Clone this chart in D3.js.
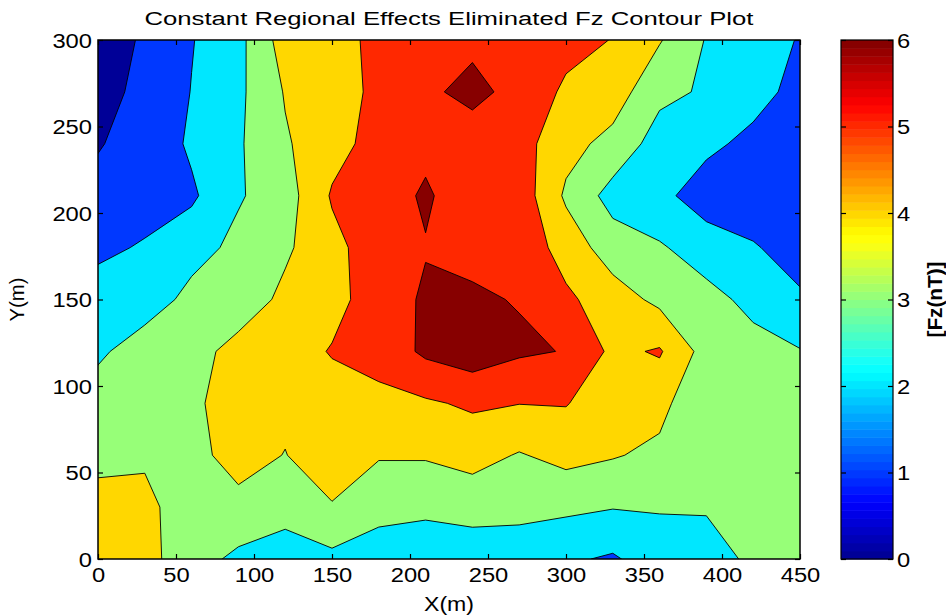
<!DOCTYPE html>
<html>
<head>
<meta charset="utf-8">
<script src="https://cdn.jsdelivr.net/npm/d3@7/dist/d3.min.js"></script>
<style>
  body { margin: 0; background: #ffffff; }
  svg { display: block; }
  text { font-family: "Liberation Sans", Arial, Helvetica, sans-serif; fill: #000; }
</style>
</head>
<body>
<svg id="chart" width="946" height="616"></svg>
<script>
// Survey grid (metres)
const xGrid = [0, 30, 60, 90, 120, 150, 180, 210, 240, 270, 300, 330, 360, 390, 420, 450];
const yGrid = [0, 30, 60, 90, 120, 150, 180, 210, 240, 270, 300];

// Fz (nT) after removing the constant regional field, one row per survey line
const fzY000 = [4.4, 4.3, 3.47, 2.75, 2.26, 2.75, 2.52, 2.34, 2.4, 2.33, 2.15, 1.87, 2.57, 2.8, 3.09, 3.3];
const fzY030 = [4.35, 4.3, 3.37, 3.81, 3.55, 3.95, 3.3, 3.22, 3.38, 3.35, 3.2, 3.045, 3.065, 3.04, 3.3, 3.4];
const fzY060 = [3.73, 3.84, 3.8, 4.25, 3.98, 4.4, 4.08, 4.09, 4.36, 3.93, 4.31, 4.076, 3.78, 3.4, 3.35, 3.3];
const fzY090 = [3.59, 3.7, 3.84, 4.4, 4.15, 4.5, 4.75, 4.87, 5.15, 5.02, 5.05, 4.4, 4.3, 3.13, 3.3, 3.2];
const fzY120 = [2.79, 3.6, 3.62, 4.35, 4.45, 5.08, 5.35, 6.19, 6.57, 6.14, 5.96, 4.78, 5.1, 3.6, 3.3, 3.05];
const fzY150 = [2.46, 2.42, 3.32, 3.43, 4.23, 4.59, 5.62, 6.1, 6.12, 5.95, 5.19, 4.47, 3.76, 3.29, 2.76, 2.16];
const fzY180 = [1.78, 2.1, 2.6, 3.26, 3.84, 4.7, 5.56, 5.96, 5.77, 5.68, 4.58, 3.49, 3.1, 2.56, 2.1, 1.5];
const fzY210 = [1.22, 1.55, 1.84, 2.9, 3.55, 5.1, 5.63, 6.1, 5.56, 5.59, 3.84, 2.62, 2.3, 1.44, 1.3, 1.2];
const fzY240 = [0.95, 1.3, 2.16, 2.88, 3.89, 4.64, 5.37, 5.82, 5.44, 5.4, 4.33, 3.69, 2.55, 2.25, 1.71, 1.45];
const fzY270 = [0.8, 1.15, 2.03, 2.79, 4.07, 4.7, 5.15, 5.8, 6.3, 5.65, 4.84, 4.5, 3.25, 2.88, 2.4, 1.65];
const fzY300 = [0.6, 1.1, 1.95, 2.71, 4.47, 4.7, 5.2, 5.5, 5.77, 5.5, 5.3, 4.97, 4.075, 2.94, 2.3, 1.96];

const contourLevels = [0, 1, 2, 3, 4, 5, 6];
const xTicks = [0, 50, 100, 150, 200, 250, 300, 350, 400, 450];
const yTicks = [0, 50, 100, 150, 200, 250, 300];
const cbTicks = [0, 1, 2, 3, 4, 5, 6];
const cbRange = [0, 6];

const titleText = "Constant Regional Effects Eliminated Fz Contour Plot";
const xLabel = "X(m)";
const yLabel = "Y(m)";
const cbLabel = "[Fz(nT)]";

// ---- layout ----
const plot = { left: 98, right: 800, top: 40, bottom: 559 };
const cb = { left: 841, right: 893 };

const svg = d3.select("#chart");

const x = d3.scaleLinear().domain([xGrid[0], xGrid[xGrid.length - 1]]).range([plot.left, plot.right]);
const y = d3.scaleLinear().domain([yGrid[0], yGrid[yGrid.length - 1]]).range([plot.bottom, plot.top]);

// MATLAB-style jet colormap with 64 entries
function jet64(i) { // i = 1..64
  const n = 64, q = n / 4;
  const clamp = v => Math.max(0, Math.min(1, v));
  const r = clamp(Math.min(i - 1.5 * q + 0.5, -i + 4.5 * q + 0.5) / q);
  const g = clamp(Math.min(i - 0.5 * q + 0.5, -i + 3.5 * q + 0.5) / q);
  const b = clamp(Math.min(i + 0.5 * q + 0.5, -i + 2.5 * q + 0.5) / q);
  return d3.rgb(r * 255, g * 255, b * 255).formatHex();
}
function levelColor(v) {
  const idx = Math.min(64, Math.floor((v - cbRange[0]) / (cbRange[1] - cbRange[0]) * 64) + 1);
  return jet64(Math.max(1, idx));
}

// ---- contour fill ----
const rows = [fzY000, fzY030, fzY060, fzY090, fzY120, fzY150, fzY180, fzY210, fzY240, fzY270, fzY300];
const nx = xGrid.length, ny = yGrid.length;
const values = rows.flat();

const contours = d3.contours().size([nx, ny]).thresholds(contourLevels)(values);

const dxStep = xGrid[1] - xGrid[0], dyStep = yGrid[1] - yGrid[0];
const gridProj = d3.geoTransform({
  point(gx, gy) {
    this.stream.point(x(xGrid[0] + (gx - 0.5) * dxStep), y(yGrid[0] + (gy - 0.5) * dyStep));
  }
});
const path = d3.geoPath(gridProj);

svg.append("defs").append("clipPath").attr("id", "plotClip")
  .append("rect")
  .attr("x", plot.left).attr("y", plot.top)
  .attr("width", plot.right - plot.left).attr("height", plot.bottom - plot.top);

const gFill = svg.append("g").attr("clip-path", "url(#plotClip)");
gFill.append("rect")
  .attr("x", plot.left).attr("y", plot.top)
  .attr("width", plot.right - plot.left).attr("height", plot.bottom - plot.top)
  .attr("fill", levelColor(contourLevels[0]));

gFill.selectAll("path.band")
  .data(contours)
  .join("path")
  .attr("class", "band")
  .attr("d", path)
  .attr("fill", d => levelColor(d.value))
  .attr("stroke", "#000")
  .attr("stroke-width", 0.9)
  .attr("stroke-linejoin", "round");

// ---- axes (ticks inward, box on) ----
const digitW = 13.2;
const intFmt = d3.format("d");
function styleTickText(sel) {
  sel.selectAll("text")
    .attr("font-size", 20)
    .attr("fill", "#000")
    .attr("textLength", d => intFmt(d).length * digitW)
    .attr("lengthAdjust", "spacingAndGlyphs");
}

const axB = svg.append("g").attr("transform", `translate(0,${plot.bottom})`)
  .call(d3.axisBottom(x).tickValues(xTicks).tickFormat(intFmt).tickSizeInner(-5).tickSizeOuter(0).tickPadding(9));
const axT = svg.append("g").attr("transform", `translate(0,${plot.top})`)
  .call(d3.axisTop(x).tickValues(xTicks).tickSizeInner(-5).tickSizeOuter(0).tickFormat(""));
const axL = svg.append("g").attr("transform", `translate(${plot.left},0)`)
  .call(d3.axisLeft(y).tickValues(yTicks).tickFormat(intFmt).tickSizeInner(-5).tickSizeOuter(0).tickPadding(6));
const axR = svg.append("g").attr("transform", `translate(${plot.right},0)`)
  .call(d3.axisRight(y).tickValues(yTicks).tickSizeInner(-5).tickSizeOuter(0).tickFormat(""));

[axB, axT, axL, axR].forEach(a => {
  a.select(".domain").remove();
  a.selectAll("line").attr("stroke", "#000").attr("stroke-width", 1.2);
  a.attr("font-family", null);
});
styleTickText(axB);
styleTickText(axL);
axL.selectAll("text").attr("dy", "0.36em");

svg.append("rect")
  .attr("x", plot.left).attr("y", plot.top)
  .attr("width", plot.right - plot.left).attr("height", plot.bottom - plot.top)
  .attr("fill", "none").attr("stroke", "#000").attr("stroke-width", 1.5);

// ---- colorbar ----
const cbY = d3.scaleLinear().domain(cbRange).range([plot.bottom, plot.top]);
const stripes = d3.range(64);
const stripeH = (cbRange[1] - cbRange[0]) / 64;
svg.append("g").selectAll("rect")
  .data(stripes)
  .join("rect")
  .attr("x", cb.left)
  .attr("width", cb.right - cb.left)
  .attr("y", i => cbY(cbRange[0] + (i + 1) * stripeH))
  .attr("height", i => cbY(cbRange[0] + i * stripeH) - cbY(cbRange[0] + (i + 1) * stripeH) + 0.5)
  .attr("fill", i => jet64(i + 1));

const cbAxR = svg.append("g").attr("transform", `translate(${cb.right},0)`)
  .call(d3.axisRight(cbY).tickValues(cbTicks).tickFormat(intFmt).tickSizeInner(-5).tickSizeOuter(0).tickPadding(4));
const cbAxL = svg.append("g").attr("transform", `translate(${cb.left},0)`)
  .call(d3.axisLeft(cbY).tickValues(cbTicks).tickSizeInner(-5).tickSizeOuter(0).tickFormat(""));
[cbAxR, cbAxL].forEach(a => {
  a.select(".domain").remove();
  a.selectAll("line").attr("stroke", "#000").attr("stroke-width", 1.2);
  a.attr("font-family", null);
});
styleTickText(cbAxR);
cbAxR.selectAll("text").attr("dy", "0.36em");

svg.append("rect")
  .attr("x", cb.left).attr("y", plot.top)
  .attr("width", cb.right - cb.left).attr("height", plot.bottom - plot.top)
  .attr("fill", "none").attr("stroke", "#000").attr("stroke-width", 1.2);

// ---- titles ----
svg.append("text")
  .attr("x", (plot.left + plot.right) / 2).attr("y", 25)
  .attr("text-anchor", "middle").attr("font-size", 18)
  .attr("textLength", 609).attr("lengthAdjust", "spacingAndGlyphs")
  .text(titleText);

svg.append("text")
  .attr("x", (plot.left + plot.right) / 2).attr("y", 611)
  .attr("text-anchor", "middle").attr("font-size", 20)
  .attr("textLength", 50).attr("lengthAdjust", "spacingAndGlyphs")
  .text(xLabel);

svg.append("text")
  .attr("transform", `translate(24,${(plot.top + plot.bottom) / 2}) rotate(-90)`)
  .attr("text-anchor", "middle").attr("font-size", 20)
  .attr("textLength", 44).attr("lengthAdjust", "spacingAndGlyphs")
  .text(yLabel);

svg.append("text")
  .attr("transform", `translate(942,${(plot.top + plot.bottom) / 2}) rotate(-90)`)
  .attr("text-anchor", "middle").attr("font-size", 20).attr("font-weight", "bold")
  .attr("textLength", 76).attr("lengthAdjust", "spacingAndGlyphs")
  .text(cbLabel);
</script>
</body>
</html>
